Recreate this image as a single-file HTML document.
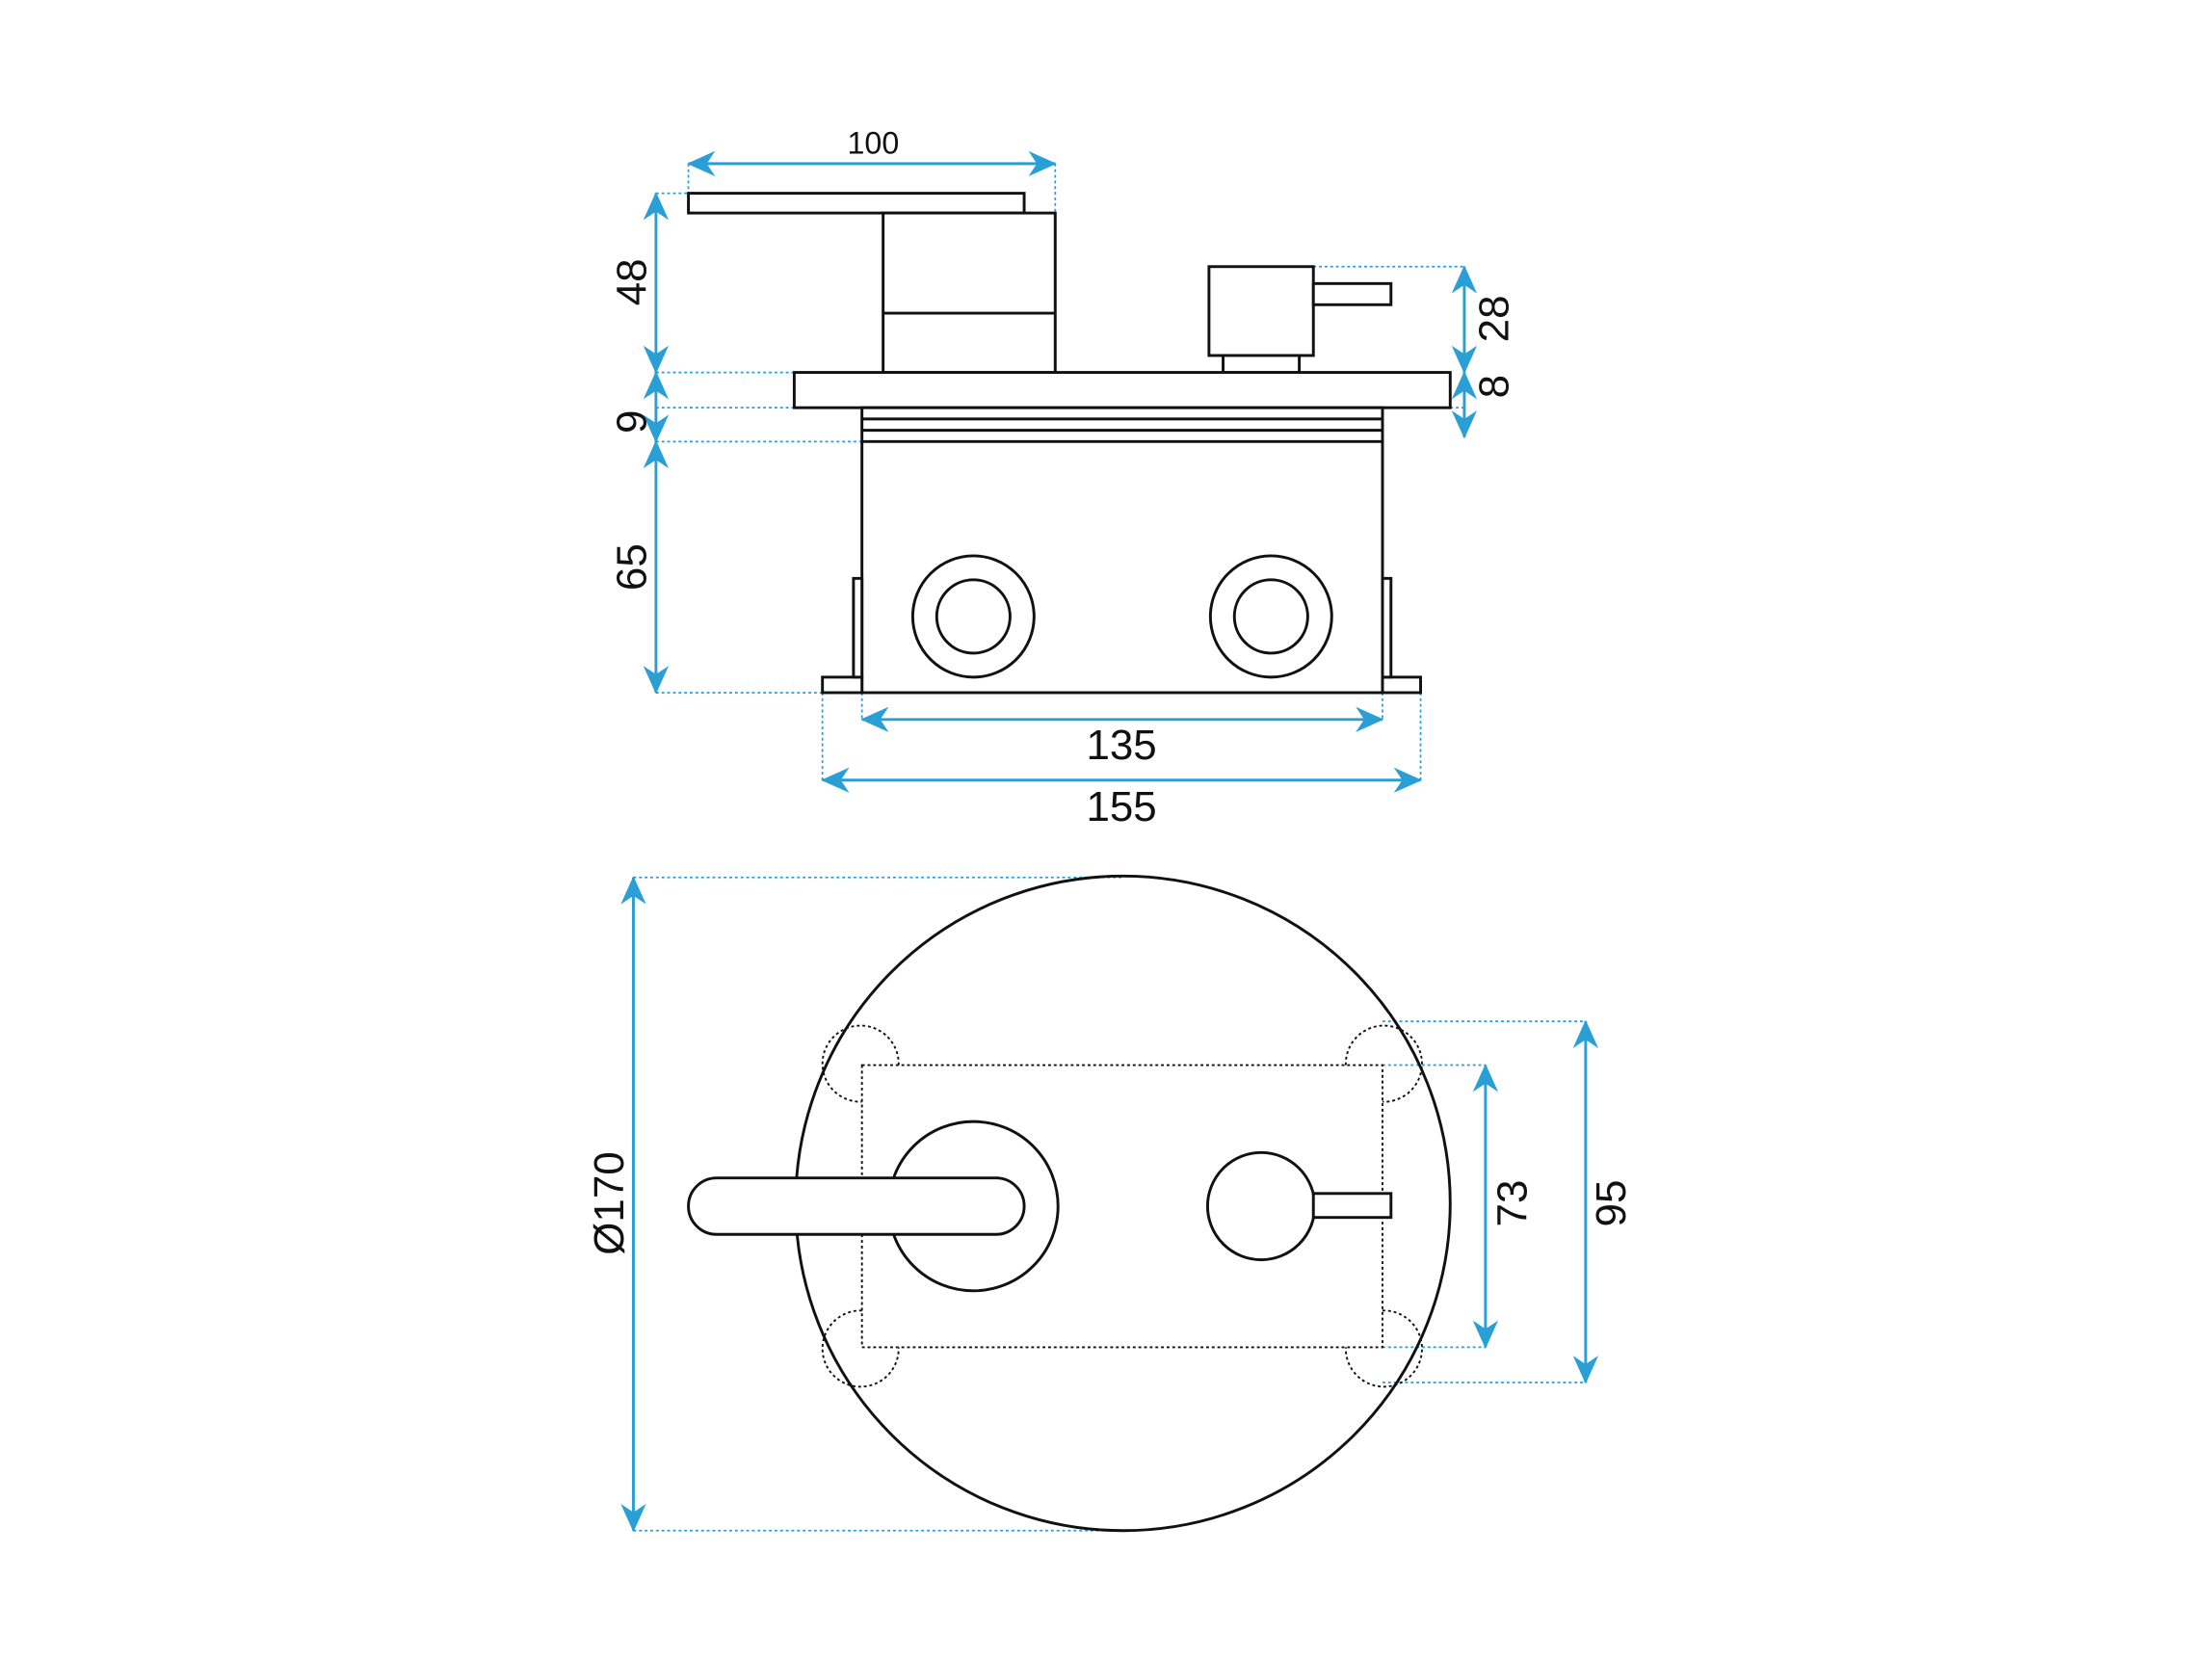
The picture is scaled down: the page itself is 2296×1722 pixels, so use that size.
<!DOCTYPE html>
<html><head><meta charset="utf-8"><style>
html,body{margin:0;padding:0;background:#fff;}
svg{display:block;}
text{font-family:"Liberation Sans",sans-serif;fill:#111;}
</style></head><body>
<svg width="2296" height="1722" viewBox="0 0 1568 1176" xmlns="http://www.w3.org/2000/svg">
<defs>
<marker id="a" viewBox="0 0 20 20" refX="19" refY="10" markerWidth="20" markerHeight="20" markerUnits="userSpaceOnUse" orient="auto-start-reverse">
<path d="M0,1 L20,10 L0,19 L6,10 Z" fill="#2a9fd6"/>
</marker>
</defs>
<rect width="1568" height="1176" fill="#fff"/>
<g fill="none" stroke="#2a9fd6" stroke-width="1.2" stroke-dasharray="2,2">
<path d="M488,116V137 M748,116V151 M465,137H488 M465,264H563 M465,289H563 M465,313H611 M465,491H583 M931,189H1038 M1028,289H1038 M611,491V510 M980,491V510 M583,491V553 M1007,491V553"/>
<path d="M449,622H796 M449,1085H796 M980,724H1124 M980,980H1124 M980,755H1053 M980,955H1053"/>
</g>
<g stroke="#2a9fd6" stroke-width="2" fill="none" marker-start="url(#a)" marker-end="url(#a)">
<line x1="488" y1="116" x2="748" y2="116"/>
<line x1="465" y1="137" x2="465" y2="264"/>
<line x1="465" y1="264" x2="465" y2="313"/>
<line x1="465" y1="313" x2="465" y2="491"/>
<line x1="1038" y1="189" x2="1038" y2="264"/>
<line x1="1038" y1="264" x2="1038" y2="310"/>
<line x1="611" y1="510" x2="980" y2="510"/>
<line x1="583" y1="553" x2="1007" y2="553"/>
<line x1="449" y1="622" x2="449" y2="1085"/>
<line x1="1053" y1="755" x2="1053" y2="955"/>
<line x1="1124" y1="724" x2="1124" y2="980"/>
</g>
<g fill="#fff" stroke="#111" stroke-width="2">
<rect x="488" y="137" width="238" height="14"/>
<rect x="626" y="151" width="122" height="113"/>
<line x1="626" y1="222" x2="748" y2="222"/>
<rect x="857" y="189" width="74" height="63"/>
<rect x="931" y="201" width="55" height="15"/>
<rect x="867" y="252" width="54" height="12"/>
<rect x="563" y="264" width="465" height="25"/>
<rect x="611" y="289" width="369" height="202"/>
<line x1="611" y1="297" x2="980" y2="297"/>
<line x1="611" y1="305" x2="980" y2="305"/>
<line x1="611" y1="313" x2="980" y2="313"/>
<rect x="583" y="480" width="28" height="11"/>
<rect x="605" y="410" width="6" height="70"/>
<rect x="980" y="480" width="27" height="11"/>
<rect x="980" y="410" width="6" height="70"/>
<circle cx="690" cy="437" r="43"/>
<circle cx="690" cy="437" r="26"/>
<circle cx="901" cy="437" r="43"/>
<circle cx="901" cy="437" r="26"/>
</g>
<circle cx="796" cy="853" r="232" fill="none" stroke="#111" stroke-width="2"/>
<g fill="none" stroke="#111" stroke-width="1.3" stroke-dasharray="2,2">
<rect x="611" y="755" width="369" height="200"/>
<path d="M637,755 A27,27 0 1 0 611,781"/>
<path d="M611,929 A27,27 0 1 0 637,955"/>
<path d="M954,755 A27,27 0 1 1 980,781"/>
<path d="M980,929 A27,27 0 1 1 954,955"/>
</g>
<g fill="#fff" stroke="#111" stroke-width="2">
<circle cx="690" cy="855" r="60"/>
<rect x="488" y="835" width="238" height="40" rx="20"/>
<circle cx="894" cy="855" r="38"/>
<rect x="931" y="846" width="55" height="17"/>
</g>
<g font-size="22" text-anchor="middle">
<text x="619" y="109">100</text>
</g>
<g font-size="30" text-anchor="middle">
<text x="795" y="538">135</text>
<text x="795" y="582">155</text>
<text transform="translate(458,200) rotate(-90)">48</text>
<text transform="translate(458,299) rotate(-90)">9</text>
<text transform="translate(458,402) rotate(-90)">65</text>
<text transform="translate(1069,226) rotate(-90)">28</text>
<text transform="translate(1069,274) rotate(-90)">8</text>
<text transform="translate(442,853) rotate(-90)">Ø170</text>
<text transform="translate(1082,853) rotate(-90)">73</text>
<text transform="translate(1152,853) rotate(-90)">95</text>
</g>
</svg>
</body></html>
